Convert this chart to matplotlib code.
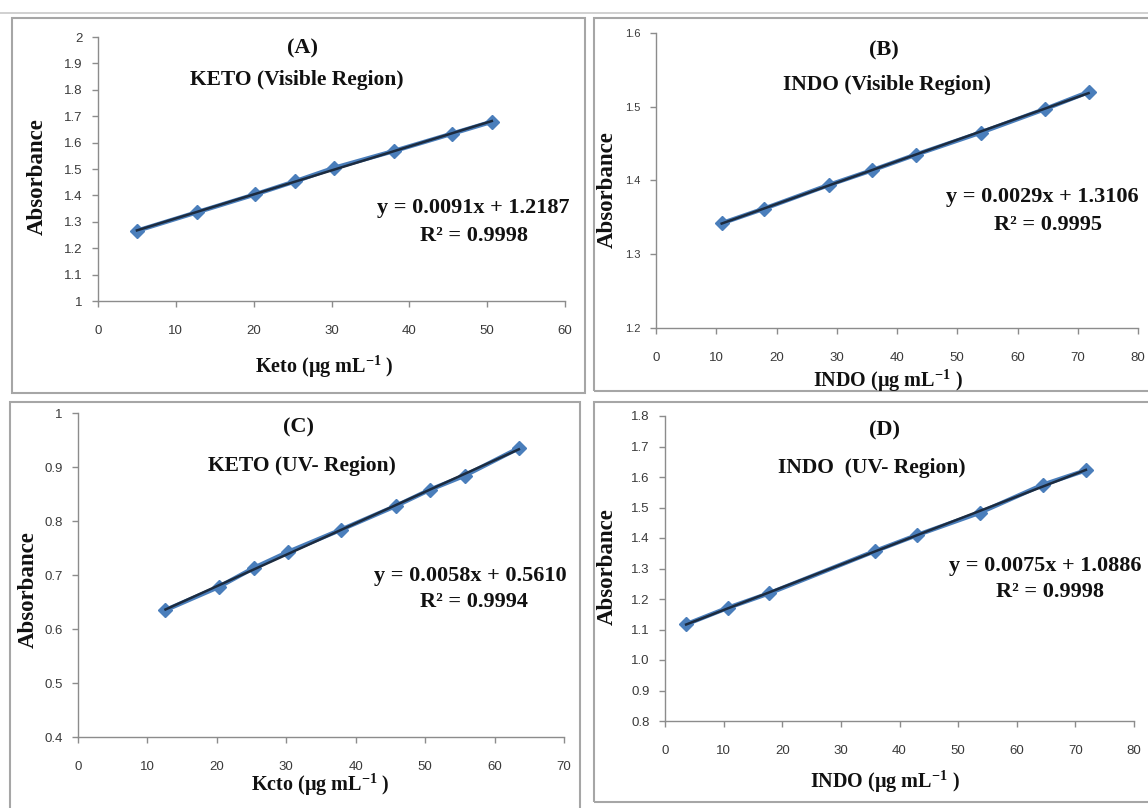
#!/usr/bin/env python3
"""Calibration curves (absorbance vs concentration) for KETO and INDO, 2x2 panels."""
import numpy as np
import matplotlib.pyplot as plt
from matplotlib.patches import Rectangle
from matplotlib.ticker import FuncFormatter, MultipleLocator

W, H = 1148, 808

# (A) KETO visible region
keto_vis_x = [5.0, 12.7, 20.2, 25.3, 30.3, 38.0, 45.5, 50.6]
keto_vis_y = [1.266, 1.336, 1.404, 1.453, 1.504, 1.568, 1.634, 1.679]
# (B) INDO visible region
indo_vis_x = [10.9, 18.0, 28.7, 35.9, 43.1, 53.9, 64.6, 71.8]
indo_vis_y = [1.342, 1.362, 1.394, 1.414, 1.435, 1.465, 1.497, 1.520]
# (C) KETO UV region
keto_uv_x = [12.6, 20.3, 25.3, 30.3, 37.9, 45.8, 50.7, 55.7, 63.5]
keto_uv_y = [0.635, 0.678, 0.713, 0.743, 0.784, 0.828, 0.858, 0.884, 0.935]
# (D) INDO UV region
indo_uv_x = [3.6, 10.7, 17.8, 35.8, 42.9, 53.7, 64.5, 71.8]
indo_uv_y = [1.117, 1.171, 1.219, 1.357, 1.409, 1.483, 1.575, 1.622]

equations = ["y = 0.0091x + 1.2187", "y = 0.0029x + 1.3106",
             "y = 0.0058x + 0.5610", "y = 0.0075x + 1.0886"]
r_squared = ["R\u00b2 = 0.9998", "R\u00b2 = 0.9995", "R\u00b2 = 0.9994", "R\u00b2 = 0.9998"]
tags = ["(A)", "(B)", "(C)", "(D)"]
titles = ["KETO (Visible Region)", "INDO (Visible Region)",
          "KETO (UV- Region)", "INDO  (UV- Region)"]
SUP = r"$^{\mathbf{-1}}$"
xlabels = ["Keto (\u00b5g mL" + SUP + " )", "INDO (\u00b5g mL" + SUP + " )",
           "Kcto (\u00b5g mL" + SUP + " )", "INDO (\u00b5g mL" + SUP + " )"]

SERIF = "Liberation Serif"
BLUE = "#4a7ebb"
DARK = "#1c2b3f"
SPINE = "#8c8c8c"

plt.rcParams["mathtext.fontset"] = "custom"
plt.rcParams["mathtext.rm"] = "Liberation Serif:bold"
plt.rcParams["mathtext.bf"] = "Liberation Serif:bold"


def fx(px):
    return px / W


def fy(py):
    return 1 - py / H


def axes_px(fig, left, right, top, bottom):
    return fig.add_axes([fx(left), fy(bottom), (right - left) / W, (bottom - top) / H])


def style_axes(ax, xmax, xstep, ylim, ystep, yfmt, ysize):
    ax.set_xlim(0, xmax)
    ax.set_ylim(*ylim)
    ax.xaxis.set_major_locator(MultipleLocator(xstep))
    ax.yaxis.set_major_locator(MultipleLocator(ystep))
    ax.yaxis.set_major_formatter(FuncFormatter(yfmt))
    ax.xaxis.set_major_formatter(FuncFormatter(lambda v, p: f"{v:g}"))
    for s in ("top", "right"):
        ax.spines[s].set_visible(False)
    for s in ("left", "bottom"):
        ax.spines[s].set_color(SPINE)
        ax.spines[s].set_linewidth(1.0)
    ax.tick_params(direction="out", length=4, width=1, color=SPINE,
                   labelsize=9.5, labelcolor="#3a3a3a")
    ax.tick_params(axis="x", pad=13)
    ax.tick_params(axis="y", pad=7, labelsize=ysize)
    for lab in ax.get_xticklabels() + ax.get_yticklabels():
        lab.set_fontfamily("Liberation Sans")
    ax.set_facecolor("none")


def plot_series(ax, x, y):
    x = np.asarray(x)
    y = np.asarray(y)
    ax.plot(x, y, color=BLUE, lw=3.2, marker="D", ms=7, mfc=BLUE, mec=BLUE,
            clip_on=False, zorder=2)
    k, b = np.polyfit(x, y, 1)
    xs = np.array([x.min(), x.max()])
    ax.plot(xs, k * xs + b, color=DARK, lw=1.8, zorder=3, clip_on=False)


def text_px(fig, px, py, s, size=14, **kw):
    fig.text(fx(px), fy(py), s, fontsize=size, fontweight="bold", family=SERIF,
             ha="center", va="center", color="#111111", **kw)


fig = plt.figure(figsize=(W / 100, H / 100), dpi=100)
fig.patch.set_facecolor("white")

# panel frames
frames = [(12, 18, 585, 393), (594, 18, 1160, 391), (10, 402, 580, 812), (594, 402, 1160, 802)]
for l, t, r, b in frames:
    fig.patches.append(Rectangle((fx(l), fy(b)), (r - l) / W, (b - t) / H,
                                 transform=fig.transFigure, fill=False,
                                 ec="#a6a6a6", lw=1.5))
fig.add_artist(plt.Line2D([0, 1], [fy(13), fy(13)], transform=fig.transFigure,
                          color="#c8c8c8", lw=1.2))

gen = lambda v, p: f"{v:g}"
one = lambda v, p: f"{v:.1f}"

specs = [
    dict(box=(98, 565, 37, 301), x=keto_vis_x, y=keto_vis_y, xmax=60, xstep=10,
         ylim=(1, 2), ystep=0.1, fmt=gen, ysize=9.5,
         tag=(302, 48), title=(297, 80), eq=(473, 208), r2=(474, 236),
         xl=(324, 367), yl=(37, 177)),
    dict(box=(656, 1138, 33, 328), x=indo_vis_x, y=indo_vis_y, xmax=80, xstep=10,
         ylim=(1.2, 1.6), ystep=0.1, fmt=gen, ysize=8,
         tag=(884, 50), title=(887, 85), eq=(1042, 197), r2=(1048, 225),
         xl=(888, 381), yl=(607, 190)),
    dict(box=(78, 564, 413, 737), x=keto_uv_x, y=keto_uv_y, xmax=70, xstep=10,
         ylim=(0.4, 1.0), ystep=0.1, fmt=gen, ysize=9.5,
         tag=(298, 427), title=(302, 466), eq=(470, 576), r2=(474, 602),
         xl=(320, 785), yl=(28, 590)),
    dict(box=(665, 1134, 416, 721), x=indo_uv_x, y=indo_uv_y, xmax=80, xstep=10,
         ylim=(0.8, 1.8), ystep=0.1, fmt=one, ysize=9.5,
         tag=(884, 430), title=(872, 468), eq=(1045, 566), r2=(1050, 592),
         xl=(885, 782), yl=(607, 567)),
]

for i, s in enumerate(specs):
    ax = axes_px(fig, *s["box"])
    plot_series(ax, s["x"], s["y"])
    style_axes(ax, s["xmax"], s["xstep"], s["ylim"], s["ystep"], s["fmt"], s["ysize"])
    text_px(fig, *s["tag"], tags[i], size=16)
    text_px(fig, *s["title"], titles[i], size=15.5)
    text_px(fig, *s["eq"], equations[i], size=16)
    text_px(fig, *s["r2"], r_squared[i], size=16)
    text_px(fig, *s["xl"], xlabels[i], size=14.5)
    text_px(fig, *s["yl"], "Absorbance", size=16.5, rotation=90)

fig.savefig("out.png", dpi=100)
